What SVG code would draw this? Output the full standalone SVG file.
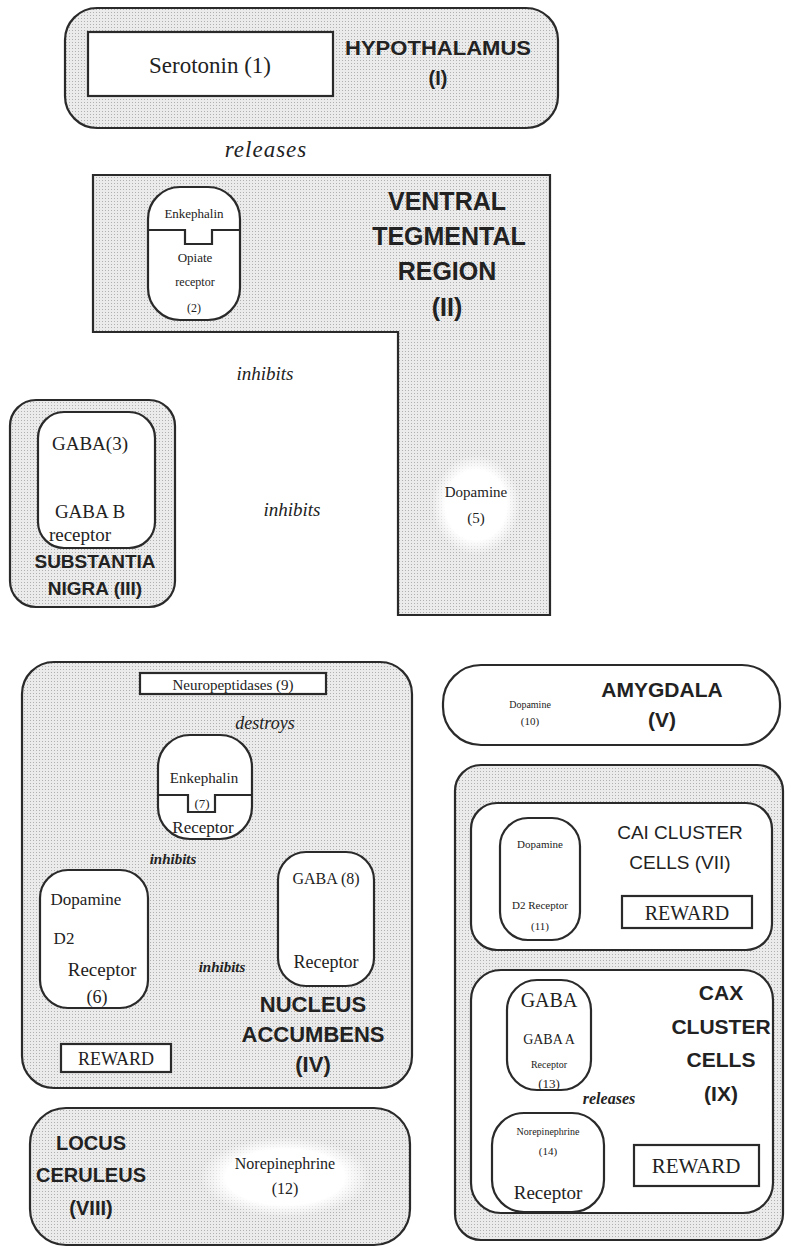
<svg xmlns="http://www.w3.org/2000/svg" width="787" height="1249" viewBox="0 0 787 1249">
<defs>
<pattern id="dots" width="3" height="3" patternUnits="userSpaceOnUse">
<rect width="3" height="3" fill="#ebebeb"/>
<rect width="1" height="1" fill="#b0b0b0"/>
</pattern>
<radialGradient id="glow">
<stop offset="0" stop-color="#fff"/>
<stop offset="0.7" stop-color="#fff"/>
<stop offset="1" stop-color="#fff" stop-opacity="0"/>
</radialGradient>
</defs>
<style>
.reg{fill:url(#dots);stroke:#2a2a2a;stroke-width:2.2}
.wh{fill:#fff;stroke:#2a2a2a;stroke-width:2.2}
.ln{fill:none;stroke:#2a2a2a;stroke-width:2.2}
.s{font-family:"Liberation Serif",serif;fill:#222}
.b{font-family:"Liberation Sans",Arial,sans-serif;font-weight:bold;fill:#222}
.n{font-family:"Liberation Sans",Arial,sans-serif;fill:#222}
.i{font-family:"Liberation Serif",serif;font-style:italic;fill:#222}
.bi{font-family:"Liberation Serif",serif;font-style:italic;font-weight:bold;fill:#222}
text{text-anchor:middle}
</style>
<rect width="787" height="1249" fill="#fff"/>

<g id="hypothalamus">
<rect class="reg" x="65" y="8" width="493" height="120" rx="32"/>
<rect class="wh" x="88" y="32" width="245" height="64"/>
<text class="s" x="210" y="73" font-size="23">Serotonin (1)</text>
<text class="b" x="438" y="55" font-size="20" textLength="186" lengthAdjust="spacingAndGlyphs">HYPOTHALAMUS</text>
<text class="b" x="438" y="85" font-size="20">(I)</text>
</g>

<g id="vta">
<path class="reg" d="M93 175 H550 V615 H398 V332 H93 Z"/>
<rect class="wh" x="148" y="187" width="92" height="133" rx="32"/>
<path class="ln" d="M148 230 H185 V244 H212 V230 H240"/>
<text class="s" x="194" y="218" font-size="13">Enkephalin</text>
<text class="s" x="195" y="262" font-size="13">Opiate</text>
<text class="s" x="195" y="286" font-size="12">receptor</text>
<text class="s" x="194" y="312" font-size="12">(2)</text>
<text class="b" x="447" y="210" font-size="25">VENTRAL</text>
<text class="b" x="449" y="245" font-size="25">TEGMENTAL</text>
<text class="b" x="447" y="280" font-size="25">REGION</text>
<text class="b" x="447" y="316" font-size="25">(II)</text>
<ellipse cx="476" cy="505" rx="44" ry="50" fill="url(#glow)"/>
<text class="s" x="476" y="497" font-size="15">Dopamine</text>
<text class="s" x="476" y="523" font-size="15">(5)</text>
</g>

<g id="substantia-nigra">
<rect class="reg" x="10" y="400" width="165" height="207" rx="26"/>
<rect class="wh" x="38" y="412" width="117" height="136" rx="26"/>
<text class="s" x="90" y="450" font-size="19">GABA(3)</text>
<text class="s" x="90" y="518" font-size="19">GABA B</text>
<text class="s" x="80" y="541" font-size="19">receptor</text>
<text class="b" x="95" y="568" font-size="19">SUBSTANTIA</text>
<text class="b" x="95" y="595" font-size="19">NIGRA (III)</text>
</g>

<g id="nucleus-accumbens">
<rect class="reg" x="22" y="662" width="390" height="426" rx="32"/>
<rect class="wh" x="140" y="673" width="186" height="21"/>
<text class="s" x="233" y="690" font-size="15">Neuropeptidases (9)</text>
<rect class="wh" x="158" y="735" width="94" height="104" rx="32"/>
<path class="ln" d="M158 795 H188 V812 H215 V795 H252"/>
<text class="s" x="204" y="783" font-size="15">Enkephalin</text>
<text class="s" x="202" y="808" font-size="13">(7)</text>
<text class="s" x="203" y="833" font-size="17">Receptor</text>
<rect class="wh" x="40" y="870" width="108" height="138" rx="28"/>
<text class="s" x="86" y="905" font-size="17">Dopamine</text>
<text class="s" x="64" y="944" font-size="17">D2</text>
<text class="s" x="102" y="976" font-size="19">Receptor</text>
<text class="s" x="97" y="1003" font-size="18">(6)</text>
<rect class="wh" x="278" y="852" width="96" height="134" rx="28"/>
<text class="s" x="326" y="884" font-size="16">GABA (8)</text>
<text class="s" x="326" y="968" font-size="18">Receptor</text>
<text class="b" x="313" y="1012" font-size="22">NUCLEUS</text>
<text class="b" x="313" y="1042" font-size="22">ACCUMBENS</text>
<text class="b" x="313" y="1072" font-size="22">(IV)</text>
<rect class="wh" x="61" y="1044" width="110" height="28"/>
<text class="s" x="116" y="1065" font-size="18">REWARD</text>
</g>

<g id="amygdala">
<rect class="wh" x="443" y="665" width="337" height="80" rx="38" fill="#fafafa"/>
<text class="s" x="530" y="708" font-size="10">Dopamine</text>
<text class="s" x="530" y="725" font-size="11">(10)</text>
<text class="b" x="662" y="697" font-size="21">AMYGDALA</text>
<text class="b" x="662" y="727" font-size="21">(V)</text>
</g>

<g id="right-region">
<rect class="reg" x="455" y="765" width="328" height="475" rx="26"/>
</g>

<g id="cai-cluster">
<rect class="wh" x="471" y="803" width="301" height="147" rx="26"/>
<rect class="wh" x="500" y="818" width="80" height="122" rx="28"/>
<text class="s" x="540" y="848" font-size="11">Dopamine</text>
<text class="s" x="540" y="909" font-size="11">D2 Receptor</text>
<text class="s" x="540" y="930" font-size="11">(11)</text>
<text class="n" x="680" y="839" font-size="19">CAI CLUSTER</text>
<text class="n" x="680" y="869" font-size="19">CELLS (VII)</text>
<rect class="wh" x="622" y="896" width="130" height="32"/>
<text class="s" x="687" y="920" font-size="20">REWARD</text>
</g>

<g id="cax-cluster">
<rect class="wh" x="471" y="970" width="302" height="243" rx="30"/>
<rect class="wh" x="507" y="980" width="84" height="110" rx="30"/>
<text class="s" x="549" y="1007" font-size="20">GABA</text>
<text class="s" x="549" y="1044" font-size="14">GABA A</text>
<text class="s" x="549" y="1068" font-size="10">Receptor</text>
<text class="s" x="549" y="1088" font-size="13">(13)</text>
<rect class="wh" x="492" y="1113" width="112" height="99" rx="32"/>
<text class="s" x="548" y="1135" font-size="10">Norepinephrine</text>
<text class="s" x="548" y="1155" font-size="11">(14)</text>
<text class="s" x="548" y="1199" font-size="19">Receptor</text>
<text class="b" x="721" y="1000" font-size="21">CAX</text>
<text class="b" x="721" y="1034" font-size="21">CLUSTER</text>
<text class="b" x="721" y="1067" font-size="21">CELLS</text>
<text class="b" x="721" y="1101" font-size="21">(IX)</text>
<rect class="wh" x="634" y="1145" width="125" height="41"/>
<text class="s" x="696" y="1173" font-size="21">REWARD</text>
</g>

<g id="locus-ceruleus">
<rect class="reg" x="30" y="1108" width="380" height="137" rx="36"/>
<ellipse cx="285" cy="1177" rx="85" ry="40" fill="url(#glow)"/>
<text class="b" x="91" y="1150" font-size="20">LOCUS</text>
<text class="b" x="91" y="1182" font-size="20">CERULEUS</text>
<text class="b" x="91" y="1215" font-size="20">(VIII)</text>
<text class="s" x="285" y="1169" font-size="16">Norepinephrine</text>
<text class="s" x="285" y="1194" font-size="16">(12)</text>
</g>

<g id="connectors">
<text class="i" x="266" y="157" font-size="23" letter-spacing="1">releases</text>
<text class="i" x="265" y="380" font-size="19">inhibits</text>
<text class="i" x="292" y="516" font-size="19">inhibits</text>
<text class="i" x="265" y="729" font-size="18">destroys</text>
<text class="bi" x="173" y="864" font-size="15">inhibits</text>
<text class="bi" x="222" y="972" font-size="15">inhibits</text>
<text class="bi" x="609" y="1104" font-size="16">releases</text>
</g>
</svg>
